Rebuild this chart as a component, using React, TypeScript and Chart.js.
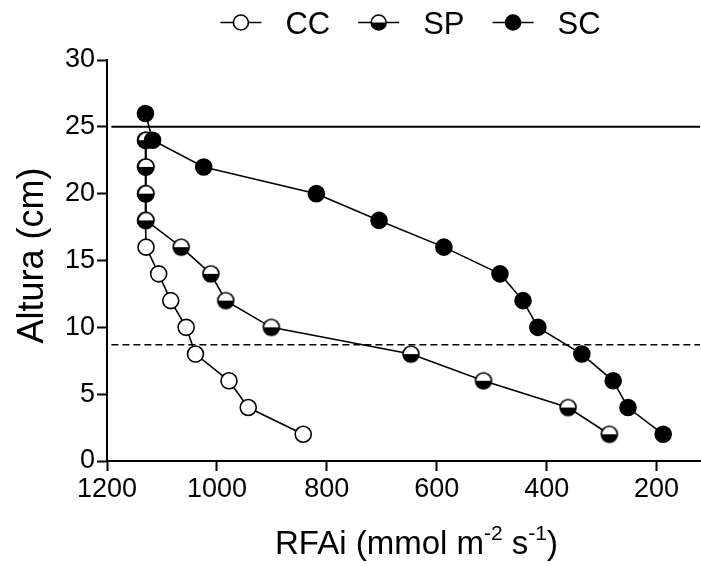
import React, { useEffect, useRef } from 'react';
import { Chart, registerables } from 'chart.js';
Chart.register(...registerables);

// ---- data ----
const seriesNames = ['CC', 'SP', 'SC'];
const ccHeights = [2, 4, 6, 8, 10, 12, 14, 16, 18, 20, 22, 24];
const ccValues = [843, 943, 978, 1039, 1056, 1084, 1106, 1129, 1130, 1130, 1130, 1130];
const spHeights = [2, 4, 6, 8, 10, 12, 14, 16, 18, 20, 22, 24];
const spValues = [286, 361, 515, 647, 901, 984, 1011, 1065, 1129, 1129, 1129, 1129];
const scHeights = [2, 4, 6, 8, 10, 12, 14, 16, 18, 20, 22, 24, 26];
const scValues = [188, 252, 279, 336, 416, 443, 485, 587, 705, 819, 1024, 1117, 1130];
const canopyLineY = 25;
const dashedLineY = 8.7;
const refLineX = [1192, 121];
const xTicks = [1200, 1000, 800, 600, 400, 200];
const yTicks = [0, 5, 10, 15, 20, 25, 30];
const xTitleParts = ['RFAi (mmol m', '-2', ' s', '-1', ')'];
const yTitle = 'Altura (cm)';

const FONT = '"Liberation Sans", Arial, Helvetica, sans-serif';

function drawMarker(ctx: CanvasRenderingContext2D, cx: number, cy: number, r: number, kind: string, lw: number) {
  ctx.save();
  ctx.beginPath();
  ctx.arc(cx, cy, r, 0, Math.PI * 2);
  ctx.fillStyle = kind === 'SC' ? '#000' : '#fff';
  ctx.fill();
  if (kind === 'SP') {
    ctx.beginPath();
    ctx.arc(cx, cy, r, 0, Math.PI);
    ctx.closePath();
    ctx.fillStyle = '#000';
    ctx.fill();
  }
  ctx.beginPath();
  ctx.arc(cx, cy, r, 0, Math.PI * 2);
  ctx.lineWidth = lw;
  ctx.strokeStyle = '#000';
  ctx.stroke();
  ctx.restore();
}

function makeHalfMarker(): HTMLCanvasElement {
  const c = document.createElement('canvas');
  c.width = 20;
  c.height = 20;
  const ctx = c.getContext('2d')!;
  drawMarker(ctx, 10, 10, 8, 'SP', 1.6);
  return c;
}

const overlayPlugin = {
  id: 'overlay',
  afterDraw(chart: any) {
    const { ctx, chartArea } = chart;
    ctx.save();
    // legend
    ctx.font = `31px ${FONT}`;
    ctx.textBaseline = 'alphabetic';
    ctx.textAlign = 'left';
    ctx.fillStyle = '#000';
    const lineLen = 41;
    const gapText = 24;
    const gapItem = 28;
    const widths = seriesNames.map((n) => lineLen + gapText + ctx.measureText(n).width);
    const total = widths.reduce((a, b) => a + b, 0) + gapItem * (seriesNames.length - 1);
    let x = (chartArea.left + chartArea.right) / 2 - total / 2 + 7;
    const ly = 22.5;
    seriesNames.forEach((n, i) => {
      ctx.beginPath();
      ctx.moveTo(x, ly);
      ctx.lineTo(x + lineLen, ly);
      ctx.lineWidth = 1.6;
      ctx.strokeStyle = '#000';
      ctx.stroke();
      drawMarker(ctx, x + lineLen / 2, ly, 7.5, n, 1.6);
      ctx.fillStyle = '#000';
      ctx.fillText(n, x + lineLen + gapText, 33.5);
      x += widths[i] + gapItem;
    });
    // x title with superscripts
    const big = `33px ${FONT}`;
    const small = `21px ${FONT}`;
    let tw = 0;
    xTitleParts.forEach((p, i) => {
      ctx.font = i % 2 === 1 ? small : big;
      tw += ctx.measureText(p).width;
    });
    let tx = (chartArea.left + chartArea.right) / 2 - tw / 2 + 13;
    const base = 554;
    xTitleParts.forEach((p, i) => {
      const sup = i % 2 === 1;
      ctx.font = sup ? small : big;
      ctx.fillText(p, tx, sup ? base - 14 : base);
      tx += ctx.measureText(p).width;
    });
    // y title
    ctx.save();
    ctx.translate(33, (chartArea.top + chartArea.bottom) / 2 - 5);
    ctx.rotate(-Math.PI / 2);
    ctx.font = `36px ${FONT}`;
    ctx.textAlign = 'center';
    ctx.textBaseline = 'middle';
    ctx.fillText(yTitle, 0, 0);
    ctx.restore();
    ctx.restore();
  },
};

export default function App() {
  const ref = useRef<HTMLCanvasElement>(null);
  useEffect(() => {
    const half = makeHalfMarker();
    const pts = (xs: number[], ys: number[]) => xs.map((v, i) => ({ x: v, y: ys[i] }));
    const chart = new Chart(ref.current!, {
      type: 'line',
      data: {
        datasets: [
          {
            label: 'canopy',
            data: refLineX.map((v) => ({ x: v, y: canopyLineY })),
            borderColor: '#000',
            borderWidth: 2,
            pointRadius: 0,
            order: 4,
          },
          {
            label: 'ref',
            data: refLineX.map((v) => ({ x: v, y: dashedLineY })),
            borderColor: '#000',
            borderWidth: 1.5,
            borderDash: [7, 4],
            pointRadius: 0,
            order: 3,
          },
          {
            label: seriesNames[0],
            data: pts(ccValues, ccHeights),
            borderColor: '#000',
            borderWidth: 1.6,
            pointStyle: 'circle',
            pointRadius: 8,
            pointBorderWidth: 1.6,
            pointBackgroundColor: '#fff',
            pointBorderColor: '#000',
            order: 2,
          },
          {
            label: seriesNames[1],
            data: pts(spValues, spHeights),
            borderColor: '#000',
            borderWidth: 1.6,
            pointStyle: half as any,
            pointRadius: 8,
            order: 1,
          },
          {
            label: seriesNames[2],
            data: pts(scValues, scHeights),
            borderColor: '#000',
            borderWidth: 1.6,
            pointStyle: 'circle',
            pointRadius: 8,
            pointBorderWidth: 1.6,
            pointBackgroundColor: '#000',
            pointBorderColor: '#000',
            order: 0,
          },
        ],
      },
      options: {
        animation: false,
        responsive: true,
        maintainAspectRatio: false,
        layout: { autoPadding: false, padding: { top: 60, right: 1, left: 0, bottom: 0 } },
        plugins: { legend: { display: false }, tooltip: { enabled: false } },
        scales: {
          x: {
            type: 'linear',
            reverse: true,
            min: 121,
            max: 1200,
            afterBuildTicks: (s: any) => {
              s.ticks = xTicks.map((v) => ({ value: v }));
            },
            afterFit: (s: any) => {
              s.height = 105;
              s.paddingLeft = 0;
              s.paddingRight = 0;
            },
            ticks: {
              color: '#000',
              font: { family: FONT, size: 27 },
              padding: 2,
              maxRotation: 0,
              callback: (v: any) => String(v),
            },
            grid: { drawOnChartArea: false, drawTicks: true, tickLength: 10, tickWidth: 2, tickColor: '#000' },
            border: { display: true, color: '#000', width: 2 },
          },
          y: {
            type: 'linear',
            min: 0,
            max: 30,
            afterBuildTicks: (s: any) => {
              s.ticks = yTicks.map((v) => ({ value: v }));
            },
            afterFit: (s: any) => {
              s.width = 107;
              s.paddingTop = 0;
              s.paddingBottom = 0;
              s.paddingLeft = 0;
              s.paddingRight = 0;
            },
            ticks: { color: '#000', font: { family: FONT, size: 27 }, padding: 2, callback: (v: any) => String(v) },
            grid: { drawOnChartArea: false, drawTicks: true, tickLength: 10, tickWidth: 2, tickColor: '#000' },
            border: { display: true, color: '#000', width: 2 },
          },
        },
      },
      plugins: [overlayPlugin],
    });
    return () => chart.destroy();
  }, []);
  return (
    <div style={{ position: 'fixed', left: 0, top: 0, width: 701, height: 566, background: '#fff' }}>
      <canvas ref={ref} />
    </div>
  );
}
